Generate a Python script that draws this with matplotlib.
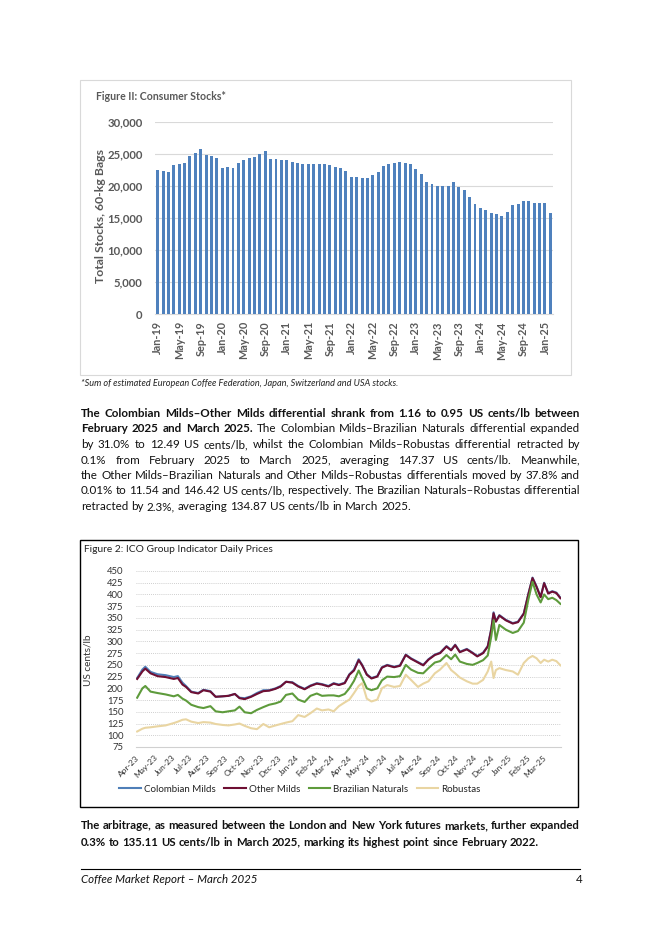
import matplotlib
matplotlib.use("Agg")
import matplotlib.pyplot as plt
from matplotlib.patches import Rectangle
from matplotlib.lines import Line2D
from matplotlib.ticker import FuncFormatter
import numpy as np
import pandas as pd

W, H = 662, 936

# Figure II: consumer stocks (thousand 60-kg bags), Jan-19 .. Feb-25
stock_months = pd.date_range("2019-01-01", "2025-02-01", freq="MS")
stock_labels = [d.strftime("%b-%y") for d in stock_months]
stocks = [22550, 22440, 22290, 23280, 23550, 23650, 24700, 25220, 25800, 24910, 24700, 24390,
          22860, 23070, 22860, 23650, 24070, 24440, 24600, 25070, 25490, 24280, 24280, 24120,
          24070, 23810, 23600, 23440, 23490, 23550, 23550, 23490, 23390, 23070, 22810, 22390,
          21390, 21500, 21290, 21340, 21710, 22230, 23180, 23440, 23700, 23810, 23650, 23550,
          22760, 21870, 20710, 20350, 19980, 20080, 20080, 20610, 19930, 19350, 18300, 17300,
          16570, 16250, 15830, 15620, 15360, 16040, 17090, 17300, 17670, 17720, 17350, 17350,
          17350, 15780]

# Figure 2: ICO group indicator prices (US cents/lb)
price_dates = pd.to_datetime([
    "2023-04-03", "2023-04-12", "2023-04-17", "2023-04-26", "2023-05-08", "2023-05-22",
    "2023-06-05", "2023-06-12", "2023-06-20", "2023-06-26", "2023-07-05", "2023-07-17",
    "2023-07-26", "2023-08-07", "2023-08-16", "2023-08-28", "2023-09-07", "2023-09-18",
    "2023-09-26", "2023-10-05", "2023-10-16", "2023-10-26", "2023-11-06", "2023-11-16",
    "2023-11-27", "2023-12-06", "2023-12-15", "2023-12-26", "2024-01-05", "2024-01-16",
    "2024-01-26", "2024-02-06", "2024-02-15", "2024-02-26", "2024-03-06", "2024-03-15",
    "2024-03-25", "2024-04-02", "2024-04-10", "2024-04-18", "2024-04-24", "2024-05-02",
    "2024-05-10", "2024-05-20", "2024-05-28", "2024-06-06", "2024-06-18", "2024-06-28",
    "2024-07-08", "2024-07-17", "2024-07-29", "2024-08-07", "2024-08-16", "2024-08-27",
    "2024-09-05", "2024-09-16", "2024-09-24", "2024-10-01", "2024-10-09", "2024-10-21",
    "2024-10-31", "2024-11-08", "2024-11-18", "2024-11-26", "2024-12-02", "2024-12-06",
    "2024-12-10", "2024-12-16", "2024-12-27", "2025-01-08", "2025-01-17", "2025-01-27",
    "2025-02-04", "2025-02-11", "2025-02-18", "2025-02-25", "2025-03-03", "2025-03-10",
    "2025-03-17", "2025-03-24", "2025-03-31"])
colombian = [222, 240, 246, 235, 230, 228, 224, 226, 212, 205, 193, 190,
             197, 194, 182, 183, 184, 188, 180, 179, 183, 190, 196, 196,
             200, 205, 214, 213, 205, 199, 206, 211, 209, 205, 211, 208,
             212, 230, 240, 262, 250, 230, 222, 226, 245, 250, 246, 249,
             272, 264, 256, 250, 262, 272, 276, 290, 282, 293, 278, 284,
             276, 269, 276, 290, 326, 362, 343, 356, 346, 339, 342, 360,
             402, 436, 417, 395, 425, 403, 407, 404, 393]
other_milds = [220, 236, 242, 232, 226, 224, 220, 222, 208, 203, 192, 189,
               196, 193, 182, 183, 184, 188, 179, 177, 182, 188, 194, 195,
               199, 204, 214, 212, 204, 198, 205, 210, 208, 204, 210, 207,
               211, 229, 238, 260, 249, 229, 221, 225, 244, 249, 245, 248,
               271, 263, 255, 249, 261, 271, 275, 289, 281, 292, 277, 283,
               275, 268, 275, 289, 325, 360, 342, 355, 345, 338, 341, 359,
               401, 435, 416, 394, 424, 402, 406, 403, 392]
brazilian = [180, 200, 205, 193, 190, 187, 183, 186, 178, 174, 165, 160,
             158, 162, 151, 149, 151, 153, 161, 149, 147, 154, 160, 165,
             168, 172, 186, 189, 176, 171, 184, 189, 184, 185, 185, 183,
             188, 200, 216, 238, 222, 200, 196, 200, 217, 225, 224, 226,
             250, 240, 233, 232, 243, 255, 258, 271, 262, 272, 257, 252,
             250, 254, 260, 270, 310, 345, 303, 335, 325, 318, 322, 340,
             390, 427, 400, 383, 400, 390, 393, 388, 380]
robustas = [108, 114, 116, 117, 119, 121, 126, 129, 133, 134, 129, 126,
            128, 127, 124, 122, 121, 123, 125, 120, 115, 113, 124, 117,
            121, 124, 127, 130, 143, 139, 147, 157, 153, 155, 151, 162,
            170, 176, 190, 205, 211, 178, 172, 176, 200, 207, 203, 205,
            229, 218, 203, 210, 215, 232, 240, 254, 239, 232, 223, 215,
            210, 210, 218, 236, 257, 222, 239, 243, 239, 236, 229, 254,
            264, 269, 264, 254, 261, 257, 261, 258, 249]
price_ticks = pd.date_range("2023-04-01", "2025-03-01", freq="MS")
price_tick_labels = [d.strftime("%b-%y") for d in price_ticks]
series_names = ["Colombian Milds", "Other Milds", "Brazilian Naturals", "Robustas"]
series_colors = ["#4F7FB8", "#6E0F33", "#5E9B3C", "#E9D5A2"]

plt.rcParams["font.family"] = ["Lato", "DejaVu Sans"]


def box(x0, y0, x1, y1):
    return [x0 / W, 1 - y1 / H, (x1 - x0) / W, (y1 - y0) / H]


fig = plt.figure(figsize=(W / 100, H / 100), dpi=100)
fig.patch.set_facecolor("white")

page = fig.add_axes([0, 0, 1, 1])
page.set_xlim(0, W)
page.set_ylim(H, 0)
page.axis("off")
page.patch.set_alpha(0)

# ---- bar chart --------------------------------------------------------
page.add_patch(Rectangle((80, 80), 491, 295, fill=False, ec="#D9D9D9", lw=0.8))
page.text(96, 100, "Figure II: Consumer Stocks*", fontsize=7.6, fontweight="bold",
          color="#595959", va="baseline")
page.text(100, 216, "Total Stocks, 60-kg Bags", fontsize=8.8, fontweight="bold",
          color="#595959", rotation=90, ha="center", va="center")

ax1 = fig.add_axes(box(155, 122.3, 553, 314.3))
xs = np.arange(len(stocks))
ax1.bar(xs, stocks, width=0.55, color="#4F81BD", zorder=3)
ax1.set_xlim(-0.5, len(stocks) - 0.5)
ax1.set_ylim(0, 30000)
ax1.set_yticks(range(0, 30001, 5000))
ax1.yaxis.set_major_formatter(FuncFormatter(lambda v, p: f"{v:,.0f}"))
ax1.set_xticks(xs[::4])
ax1.set_xticklabels(stock_labels[::4], rotation=90)
ax1.grid(axis="y", color="#D9D9D9", lw=0.8)
ax1.set_axisbelow(True)
for s in ["top", "right", "left"]:
    ax1.spines[s].set_visible(False)
ax1.spines["bottom"].set_color("#D9D9D9")
ax1.tick_params(axis="y", length=0, pad=9, labelsize=8.2, labelcolor="#595959")
ax1.tick_params(axis="x", length=0, pad=5, labelsize=7.8, labelcolor="#595959")
for lab in ax1.get_xticklabels() + ax1.get_yticklabels():
    lab.set_fontweight("bold")

page.text(81, 386, "*Sum of estimated European Coffee Federation, Japan, Switzerland and USA stocks.",
          fontsize=6.6, fontstyle="italic", color="#222222", va="baseline")

# ---- justified text ---------------------------------------------------
renderer = fig.canvas.get_renderer()


def make_words(parts, size, style):
    items = []
    for text, weight in parts:
        for w in text.split():
            t = page.text(0, 0, w, fontsize=size, fontweight=weight, fontstyle=style,
                          va="baseline", ha="left", color="#111111")
            items.append([t, t.get_window_extent(renderer).width])
    return items


def write_par(lines, y0, step, size, x0=81, x1=580, style="normal"):
    gap_nat = size * 100 / 72 * 0.25
    # shrink font if a justified line does not fit
    widest = 0
    for parts, just in lines:
        items = make_words(parts, size, style)
        widest = max(widest, sum(w for _, w in items) + gap_nat * (len(items) - 1))
        for t, _ in items:
            t.remove()
    if widest > x1 - x0:
        size = size * (x1 - x0) / widest
        gap_nat = size * 100 / 72 * 0.25
    for i, (parts, just) in enumerate(lines):
        y = y0 + i * step
        items = make_words(parts, size, style)
        total = sum(w for _, w in items)
        n = len(items) - 1
        gap = (x1 - x0 - total) / n if just and n > 0 else gap_nat
        x = x0
        for t, w in items:
            t.set_position((x, y))
            x += w + gap


B, R = "bold", "normal"
par1 = [
    ([("The Colombian Milds–Other Milds differential shrank from 1.16 to 0.95 US cents/lb between", B)], True),
    ([("February 2025 and March 2025.", B),
      ("The Colombian Milds–Brazilian Naturals differential expanded", R)], True),
    ([("by 31.0% to 12.49 US cents/lb, whilst the Colombian Milds–Robustas differential retracted by", R)], True),
    ([("0.1% from February 2025 to March 2025, averaging 147.37 US cents/lb. Meanwhile,", R)], True),
    ([("the Other Milds–Brazilian Naturals and Other Milds–Robustas differentials moved by 37.8% and", R)], True),
    ([("0.01% to 11.54 and 146.42 US cents/lb, respectively. The Brazilian Naturals–Robustas differential", R)], True),
    ([("retracted by 2.3%, averaging 134.87 US cents/lb in March 2025.", R)], False),
]
write_par(par1, 417, 15.5, 9.4)

par2 = [
    ([("The arbitrage, as measured between the London and New York futures markets, further expanded", B)], True),
    ([("0.3% to 135.11 US cents/lb in March 2025, marking its highest point since February 2022.", B)], False),
]
write_par(par2, 829, 16.5, 9.4)

# ---- line chart -------------------------------------------------------
page.add_patch(Rectangle((80, 540), 498, 267, fill=False, ec="black", lw=1.0))
page.text(84, 552, "Figure 2: ICO Group Indicator Daily Prices", fontsize=7.4,
          color="#222222", va="baseline")
page.text(88, 660, "US cents/lb", fontsize=7.2, color="#333333", rotation=90,
          ha="center", va="center")

ax2 = fig.add_axes(box(136, 571, 561, 747))
for vals, name, col in zip([colombian, other_milds, brazilian, robustas], series_names, series_colors):
    ax2.plot(price_dates, vals, color=col, lw=1.5, label=name)
ax2.set_xlim(pd.Timestamp("2023-04-01"), pd.Timestamp("2025-04-01"))
ax2.set_ylim(75, 450)
ax2.set_yticks(range(75, 451, 25))
ax2.grid(axis="y", color="#BFBFBF", lw=0.6, ls=(0, (1, 1.5)))
ax2.set_axisbelow(True)
for s in ["top", "right", "left"]:
    ax2.spines[s].set_visible(False)
ax2.spines["bottom"].set_color("#D0D0D0")
ax2.set_xticks(price_ticks)
ax2.set_xticklabels(price_tick_labels, rotation=45, ha="right", va="top",
                    rotation_mode="anchor")
ax2.tick_params(axis="y", length=0, pad=9, labelsize=6.8, labelcolor="#333333")
ax2.tick_params(axis="x", length=0, pad=5, labelsize=6.0, labelcolor="#333333")

handles = [Line2D([], [], color=c, lw=1.5) for c in series_colors]
fig.legend(handles, series_names, loc="center", bbox_to_anchor=(300 / W, 1 - 789 / H),
           ncol=4, frameon=False, fontsize=7.0, handlelength=2.2, handletextpad=0.3,
           columnspacing=0.9, labelcolor="#222222")

# ---- footer -----------------------------------------------------------
page.plot([81, 580], [869, 869], color="black", lw=0.8)
page.text(81, 883, "Coffee Market Report – March 2025", fontsize=8.3, fontstyle="italic",
          color="#111111", va="baseline")
page.text(583, 883, "4", fontsize=8.3, color="#111111", va="baseline", ha="right")

fig.savefig("out.png", dpi=100)
